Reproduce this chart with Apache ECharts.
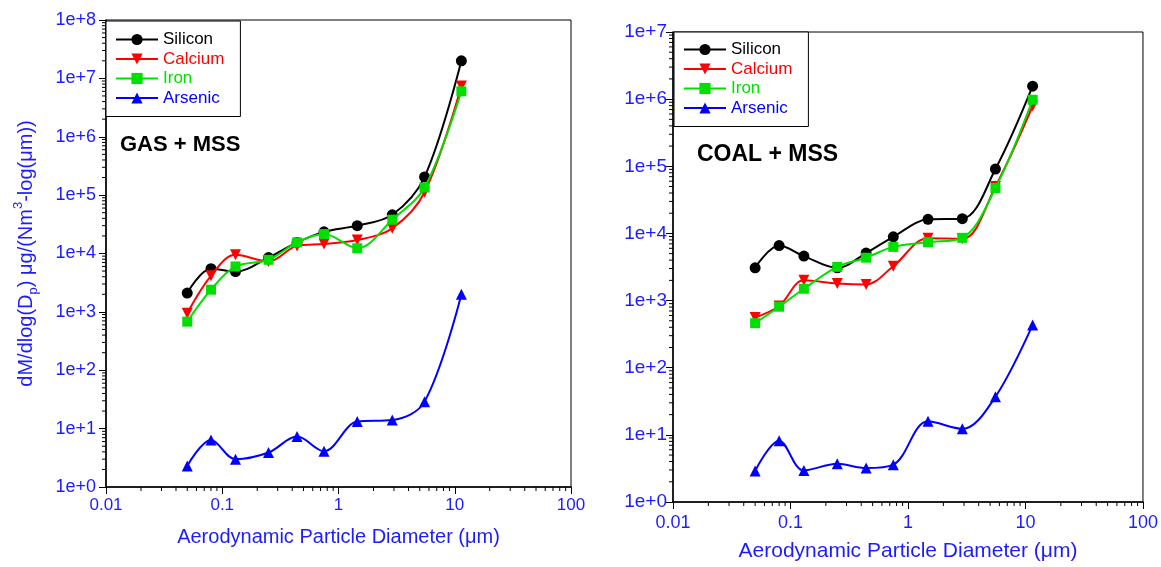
<!DOCTYPE html>
<html>
<head>
<meta charset="utf-8">
<script src="https://cdn.jsdelivr.net/npm/echarts@6/dist/echarts.min.js"></script>
<style>html,body{margin:0;padding:0;background:#fff}#c{width:1161px;height:567px}</style>
</head>
<body>
<div id="c"></div>
<script>
// ---- data ----
const gasDiam = [0.05, 0.08, 0.13, 0.25, 0.44, 0.75, 1.45, 2.9, 5.5, 11.4];
const gasSilicon = [2100, 5500, 4900, 8500, 15500, 23500, 30000, 46000, 205000, 2.0e7];
const gasCalcium = [950, 4150, 9500, 7300, 13500, 14500, 17000, 27000, 112000, 7.4e6];
const gasIron = [680, 2400, 6000, 7800, 15500, 21500, 12300, 38000, 135000, 6.0e6];
const gasArsenic = [2.3, 6.4, 3.0, 3.9, 7.3, 4.1, 13.2, 14, 29, 2000];

const coalDiam = [0.05, 0.08, 0.13, 0.25, 0.44, 0.75, 1.48, 2.9, 5.55, 11.5];
const coalSilicon = [3080, 6600, 4600, 3070, 5100, 8900, 16200, 16600, 91000, 1.56e6];
const coalCalcium = [560, 830, 2000, 1800, 1740, 3250, 8500, 8300, 50000, 7.9e5];
const coalIron = [460, 810, 1500, 3180, 4350, 6300, 7400, 8600, 47500, 9.8e5];
const coalArsenic = [2.9, 8.2, 2.95, 3.7, 3.2, 3.6, 15.9, 12.3, 37, 434];

const elementNames = ['Silicon', 'Calcium', 'Iron', 'Arsenic'];
const panelTitles = ['GAS + MSS', 'COAL + MSS'];
const xTickLabels = {'-2': '0.01', '-1': '0.1', '0': '1', '1': '10', '2': '100'};
const xAxisTitle = 'Aerodynamic Particle Diameter (\u03bcm)';

// ---- style ----
const FONT = "'Liberation Sans', Arial, sans-serif";
const BLUE = '#1c1cff';
const colors = {Silicon: '#000000', Calcium: '#ff0000', Iron: '#00e000', Arsenic: '#0000ff'};
const symbols = {Silicon: ['circle', 0, 11], Calcium: ['triangle', 180, 11], Iron: ['rect', 0, 10], Arsenic: ['triangle', 0, 11]};

function zip(xs, ys) { return xs.map((x, i) => [x, ys[i]]); }

function lineSeries(name, xs, ys, gi) {
  const s = symbols[name];
  return {
    name: name, type: 'line', xAxisIndex: gi, yAxisIndex: gi,
    data: zip(xs, ys), smooth: 0.35,
    symbol: s[0], symbolRotate: s[1], symbolSize: s[2],
    lineStyle: {color: colors[name], width: 2},
    itemStyle: {color: colors[name]},
    z: name === 'Silicon' ? 2 : (name === 'Iron' ? 4 : 3)
  };
}

function minorVals(kFrom, kTo) {
  const out = [];
  for (let k = kFrom; k <= kTo; k++) for (let m = 2; m <= 9; m++) out.push(m * Math.pow(10, k));
  return out;
}

function minorXSeries(gi) {
  return {
    type: 'custom', xAxisIndex: gi, yAxisIndex: gi, clip: false, silent: true, z: 10,
    data: minorVals(-2, 1).map(v => [v, 1]),
    renderItem: function (params, api) {
      const p = api.coord([api.value(0), 1]);
      return {type: 'line', shape: {x1: p[0], y1: p[1], x2: p[0], y2: p[1] + 4}, style: {stroke: '#000', lineWidth: 1}};
    }
  };
}
function minorYSeries(gi, kTo) {
  return {
    type: 'custom', xAxisIndex: gi, yAxisIndex: gi, clip: false, silent: true, z: 10,
    data: minorVals(0, kTo).map(v => [0.01, v]),
    renderItem: function (params, api) {
      const p = api.coord([0.01, api.value(1)]);
      return {type: 'line', shape: {x1: p[0] - 4, y1: p[1], x2: p[0], y2: p[1]}, style: {stroke: '#000', lineWidth: 1}};
    }
  };
}

function xAxisDef(gi, labelSize, labelMargin, nameSize, nameGap) {
  return {
    type: 'log', logBase: 10, gridIndex: gi, min: 0.01, max: 100, interval: 1,
    axisLine: {show: true, lineStyle: {color: '#000', width: 1.5}},
    axisTick: {show: true, inside: false, length: 7, lineStyle: {color: '#000', width: 1}},
    splitLine: {show: false}, minorTick: {show: false},
    axisLabel: {color: BLUE, fontSize: labelSize, fontFamily: FONT, margin: labelMargin,
      formatter: v => xTickLabels[String(Math.round(Math.log10(v)))] || ''},
    name: xAxisTitle, nameLocation: 'middle', nameGap: nameGap,
    nameTextStyle: {color: BLUE, fontSize: nameSize, fontFamily: FONT}
  };
}
function yAxisDef(gi, maxExp, labelSize, labelMargin, withName) {
  const ax = {
    type: 'log', logBase: 10, gridIndex: gi, min: 1, max: Math.pow(10, maxExp), interval: 1,
    axisLine: {show: true, lineStyle: {color: '#000', width: 1.5}},
    axisTick: {show: true, inside: false, length: 7, lineStyle: {color: '#000', width: 1}},
    splitLine: {show: false}, minorTick: {show: false},
    axisLabel: {color: BLUE, fontSize: labelSize, fontFamily: FONT, margin: labelMargin,
      formatter: v => '1e+' + Math.round(Math.log10(v))}
  };
  if (withName) {
    ax.name = '{a|dM/dlog(D}{s|p}{a|) \u03bcg/(Nm}{u|3}{a|-log(\u03bcm))}';
    ax.nameLocation = 'middle';
    ax.nameGap = 66;
    ax.nameRotate = 90;
    ax.nameTextStyle = {
      color: BLUE, fontFamily: FONT, fontSize: 20,
      rich: {
        a: {color: BLUE, fontFamily: FONT, fontSize: 20, lineHeight: 28},
        s: {color: BLUE, fontFamily: FONT, fontSize: 13, lineHeight: 13, verticalAlign: 'bottom'},
        u: {color: BLUE, fontFamily: FONT, fontSize: 13, lineHeight: 13, verticalAlign: 'top'}
      }
    };
  }
  return ax;
}

function legendDef(left, top, padTop) {
  return {
    orient: 'vertical', left: left, top: top,
    backgroundColor: '#fff', borderColor: '#000', borderWidth: 1, borderRadius: 0,
    padding: [padTop, 16, 10, 9], itemGap: 2.5, itemWidth: 42, itemHeight: 14,
    textStyle: {fontSize: 17, fontFamily: FONT},
    data: elementNames.map(n => ({name: n, textStyle: {color: colors[n], fontSize: 17, fontFamily: FONT}}))
  };
}

const series = [];
[[gasDiam, [gasSilicon, gasCalcium, gasIron, gasArsenic]], [coalDiam, [coalSilicon, coalCalcium, coalIron, coalArsenic]]]
  .forEach((panel, gi) => {
    elementNames.forEach((n, i) => series.push(lineSeries(n, panel[0], panel[1][i], gi)));
  });
series.push(minorXSeries(0), minorYSeries(0, 7), minorXSeries(1), minorYSeries(1, 6));

const option = {
  animation: false,
  backgroundColor: '#fff',
  title: [
    {text: panelTitles[0], left: 120, top: 134, padding: 0, textStyle: {fontSize: 22, fontWeight: 'bold', color: '#000', fontFamily: FONT}},
    {text: panelTitles[1], left: 697, top: 143, padding: 0, textStyle: {fontSize: 23, fontWeight: 'bold', color: '#000', fontFamily: FONT}}
  ],
  grid: [
    {left: 106, top: 20, width: 465, height: 467, show: true, borderColor: '#000', borderWidth: 1, backgroundColor: 'transparent'},
    {left: 673, top: 32, width: 473, height: 471, show: true, borderColor: '#000', borderWidth: 1, backgroundColor: 'transparent'}
  ],
  legend: [legendDef(106, 21, 10), legendDef(674, 32, 9)],
  xAxis: [xAxisDef(0, 17, 10, 20, 40), xAxisDef(1, 18, 12, 21, 39)],
  yAxis: [yAxisDef(0, 8, 18, 10, true), yAxisDef(1, 7, 19, 6, false)],
  series: series
};

const chart = echarts.init(document.getElementById('c'), null, {renderer: 'canvas'});
chart.setOption(option);
</script>
</body>
</html>
